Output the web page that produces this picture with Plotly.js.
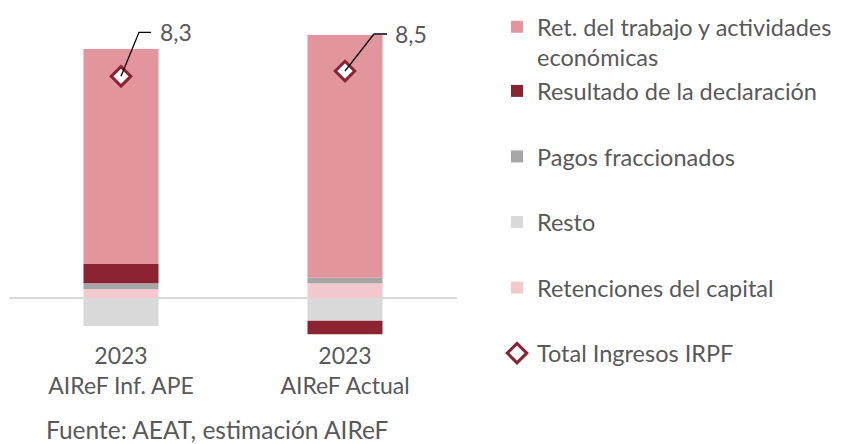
<!DOCTYPE html>
<html>
<head>
<meta charset="utf-8">
<script src="https://cdn.plot.ly/plotly-3.0.1.min.js"></script>
<style>html,body{margin:0;padding:0;background:#fff;}#chart{width:846px;height:444px;}</style>
</head>
<body>
<div id="chart"></div>
<script>
// ---- data ----
const categories = ['2023<br>AIReF Inf. APE', '2023<br>AIReF Actual'];
const retCapital = [0.33, 0.55];
const resto = [-1.05, -0.85];
const pagosFraccionados = [0.22, 0.21];
const resultadoDeclaracion = [0.72, -0.51];
const retTrabajo = [8.05, 9.09];
const totalIngresos = [8.3, 8.5];

const seriesNames = {
  retTrabajo: 'Ret. del trabajo y actividades<br>económicas',
  resultado: 'Resultado de la declaración',
  pagos: 'Pagos fraccionados',
  resto: 'Resto',
  retCapital: 'Retenciones del capital',
  total: 'Total Ingresos IRPF'
};
const sourceText = 'Fuente: AEAT, estimación AIReF';

// ---- styles ----
const colors = {
  retTrabajo: '#E3959E',
  resultado: '#8B2332',
  pagos: '#A6A6A6',
  resto: '#D9D9D9',
  retCapital: '#F2C9CF'
};
const txtColor = '#595959';
const fontFam = 'Lato, "Open Sans", sans-serif';
const barWidth = 0.335;
// leader-line offsets (pixels, relative to the total marker) and label shifts
const leaderPaths = ['M0,0 L18,44 L30,44', 'M0,0 L29,37 L42,37'];
const labelShift = [[37, 44], [48, 37]];

function bar(name, y, color, group, rank) {
  return {type: 'bar', name: name, x: categories, y: y, width: barWidth,
    marker: {color: color, line: {width: 0}}, legendgroup: group, legendrank: rank,
    hoverinfo: 'y+name'};
}

const traces = [
  {type: 'scatter', mode: 'markers', name: seriesNames.total, x: categories, y: totalIngresos,
   legendgroup: 'g5', legendrank: 6, cliponaxis: false,
   marker: {symbol: 'diamond', size: 15, color: '#FFFFFF', line: {color: colors.resultado, width: 3}}},
  bar(seriesNames.retCapital, retCapital, colors.retCapital, 'g4', 5),
  bar(seriesNames.resto, resto, colors.resto, 'g3', 4),
  bar(seriesNames.pagos, pagosFraccionados, colors.pagos, 'g2', 3),
  bar(seriesNames.resultado, resultadoDeclaracion, colors.resultado, 'g1', 2),
  bar(seriesNames.retTrabajo, retTrabajo, colors.retTrabajo, 'g1', 1)
];

const fmt = v => v.toFixed(1).replace('.', ',');

const annotations = totalIngresos.map((v, i) => ({
  x: categories[i], y: v, xref: 'x', yref: 'y', text: fmt(v), showarrow: false,
  xanchor: 'left', yanchor: 'middle', xshift: labelShift[i][0], yshift: labelShift[i][1],
  font: {family: fontFam, size: 23, color: txtColor}
}));
annotations.push({
  xref: 'paper', yref: 'paper', x: (44 - 9) / 448, y: (340 - 429) / 320,
  xanchor: 'left', yanchor: 'middle', showarrow: false, text: sourceText,
  font: {family: fontFam, size: 24.5, color: txtColor}
});

const shapes = totalIngresos.map((v, i) => ({
  type: 'path', xref: 'x', yref: 'y', xsizemode: 'pixel', ysizemode: 'pixel',
  xanchor: categories[i], yanchor: v, path: leaderPaths[i],
  line: {color: '#000000', width: 1.3}, layer: 'above'
}));

const layout = {
  width: 846, height: 444,
  margin: {l: 9, r: 389, t: 20, b: 104, pad: 0},
  paper_bgcolor: '#FFFFFF', plot_bgcolor: '#FFFFFF',
  barmode: 'relative',
  font: {family: fontFam, color: txtColor, size: 20},
  xaxis: {type: 'category', range: [-0.5, 1.5], showgrid: false, showline: false, ticks: '',
          tickfont: {family: fontFam, size: 23, color: txtColor}, fixedrange: true},
  yaxis: {range: [-1.573, 10.41], showgrid: false, showticklabels: false, ticks: '',
          zeroline: true, zerolinecolor: '#D9D9D9', zerolinewidth: 2, fixedrange: true},
  showlegend: true,
  legend: {xref: 'container', yref: 'container', x: 497 / 846, y: 1 - 5 / 444,
           xanchor: 'left', yanchor: 'top', traceorder: 'grouped', tracegroupgap: 32,
           valign: 'top', bgcolor: 'rgba(0,0,0,0)', maxheight: 440,
           font: {family: fontFam, size: 23.5, color: txtColor}},
  annotations: annotations,
  shapes: shapes
};

Plotly.newPlot('chart', traces, layout, {displayModeBar: false, staticPlot: true});
</script>
</body>
</html>
